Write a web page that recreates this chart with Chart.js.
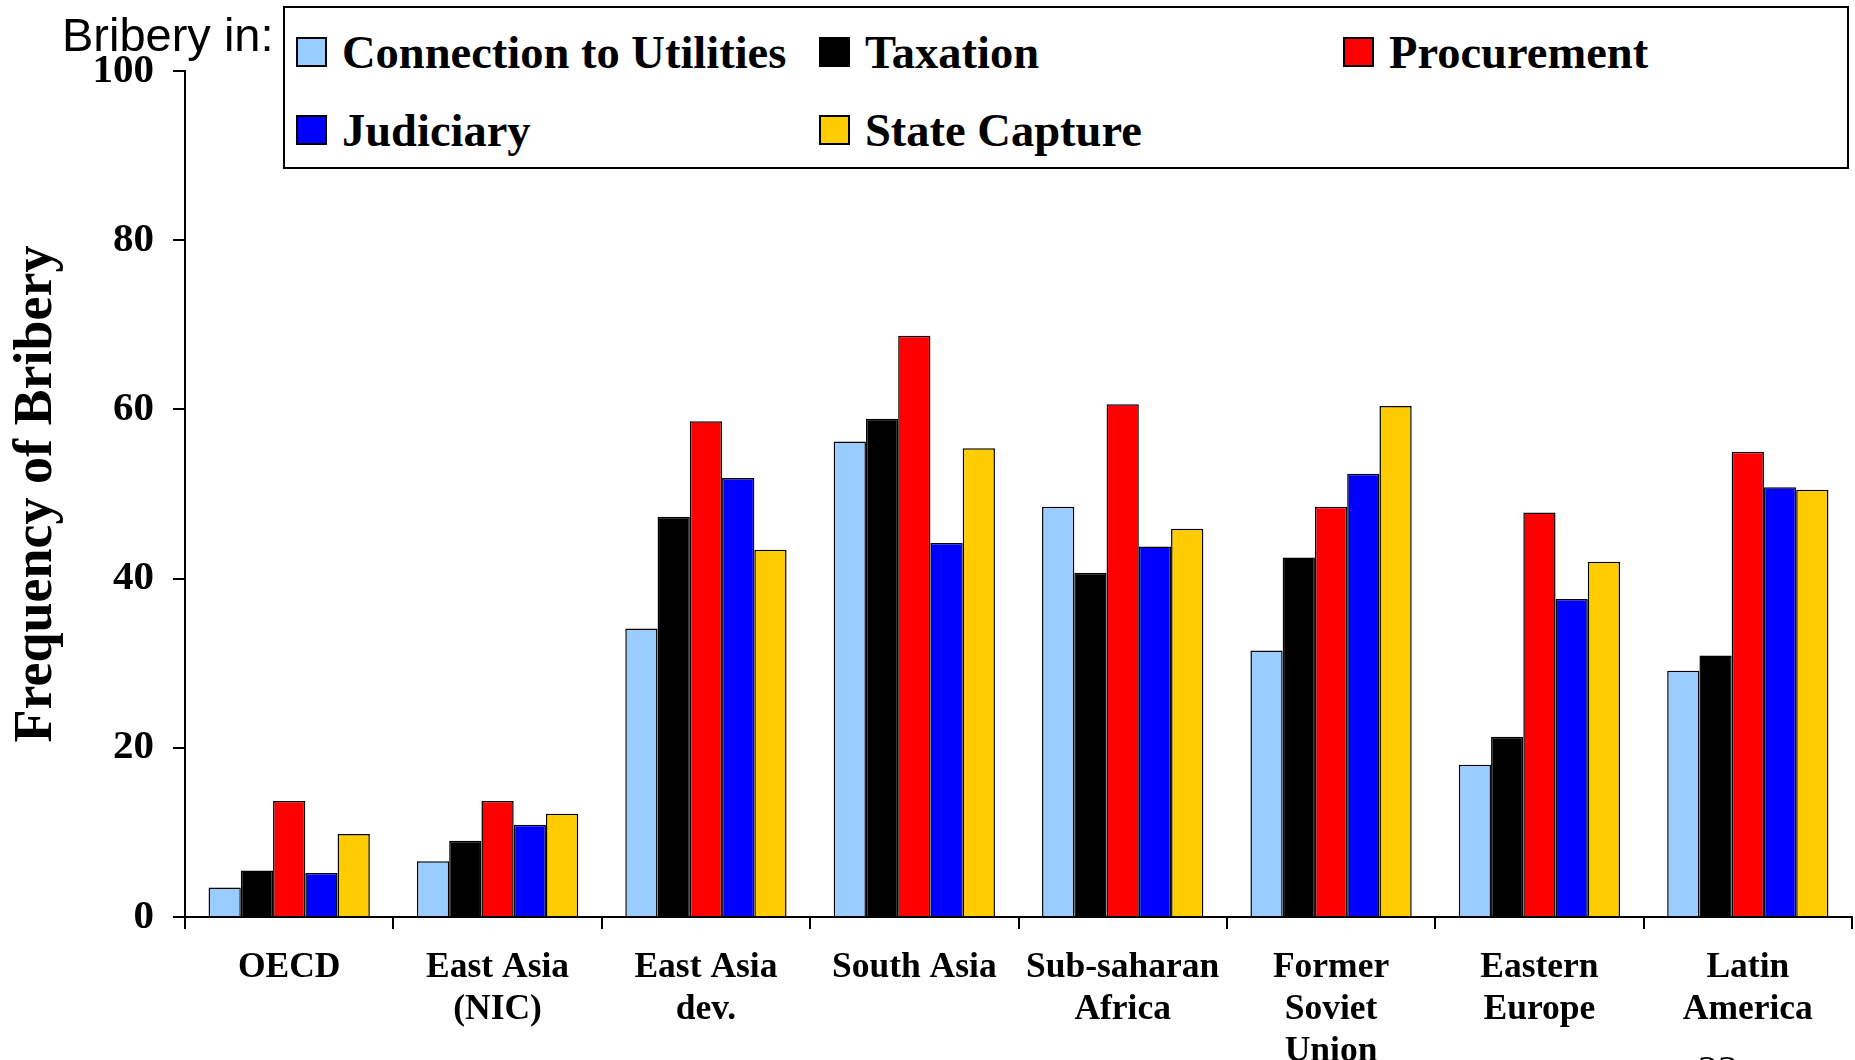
<!DOCTYPE html>
<html>
<head>
<meta charset="utf-8">
<script src="https://cdn.jsdelivr.net/npm/chart.js@4"></script>
<style>
  body { margin: 0; background: #fff; }
  #wrap { position: relative; width: 1855px; height: 1060px; overflow: hidden; }
  #bribery-in { position: absolute; left: 62px; top: 7px; font: 47px "Liberation Sans", Arial, sans-serif; color: #000; }
  #legend { position: absolute; left: 283px; top: 6px; width: 1562px; height: 159px; border: 2px solid #000; background: #fff; }
  .item { position: absolute; display: flex; align-items: center; font: bold 46.5px "Liberation Serif", "Times New Roman", serif; color: #000; white-space: nowrap; }
  .swatch { width: 27px; height: 26px; border: 2px solid #000; margin-right: 15px; }
  #pagenum { position: absolute; left: 1698px; top: 1046px; font: 40px "Liberation Serif", serif; }
</style>
</head>
<body>
<div id="wrap">
  <canvas id="briberyChart" width="1855" height="1060"></canvas>
  <div id="bribery-in">Bribery in:</div>
  <div id="legend"></div>
  <div id="pagenum">23</div>
</div>
<script>
// Regions (x axis)
const regions = [
  ["OECD"], ["East Asia", "(NIC)"], ["East Asia", "dev."], ["South Asia"],
  ["Sub-saharan", "Africa"], ["Former", "Soviet", "Union"], ["Eastern", "Europe"], ["Latin", "America"]
];

// Frequency of bribery by type
const utilities    = [3.5, 6.6, 34.1, 56.2, 48.5, 31.5, 18.0, 29.1];
const taxation     = [5.5, 9.0, 47.3, 58.9, 40.7, 42.5, 21.3, 30.9];
const procurement  = [13.7, 13.7, 58.6, 68.7, 60.6, 48.5, 47.8, 55.0];
const judiciary    = [5.2, 10.9, 51.9, 44.2, 43.8, 52.4, 37.6, 50.8];
const stateCapture = [9.8, 12.2, 43.4, 55.4, 45.9, 60.4, 42.0, 50.5];

const yTicks = [0, 20, 40, 60, 80, 100];

const seriesNames  = ["Connection to Utilities", "Taxation", "Procurement", "Judiciary", "State Capture"];
const seriesColors = ["#99ccff", "#000000", "#ff0000", "#0000ff", "#ffcc00"];
const seriesData   = [utilities, taxation, procurement, judiciary, stateCapture];

const serif = "'Liberation Serif', 'Times New Roman', serif";

const datasets = seriesNames.map((name, i) => ({
    label: name,
    data: seriesData[i],
    backgroundColor: seriesColors[i],
    borderColor: "#000",
    borderWidth: 1.5,
    barPercentage: 1,
    categoryPercentage: 0.774
}));

const ctx = document.getElementById("briberyChart").getContext("2d");
const briberyChart = new Chart(ctx, {
    type: "bar",
    data: { labels: regions, datasets: datasets },
    options: {
        responsive: false,
        animation: false,
        layout: { padding: { top: 71, right: 3, left: 0, bottom: 0 } },
        plugins: { legend: { display: false }, tooltip: { enabled: false } },
        scales: {
            x: {
                afterFit: scale => { scale.height = 143; },
                border: { color: "#000", width: 2 },
                grid: { drawOnChartArea: false, drawTicks: true, tickLength: 12, color: "#000", lineWidth: 2 },
                ticks: {
                    color: "#000",
                    padding: 18,
                    maxRotation: 0,
                    autoSkip: false,
                    font: { family: serif, size: 35.5, weight: "bold", lineHeight: 1.18 }
                }
            },
            y: {
                min: 0,
                max: 100,
                afterFit: scale => { scale.width = 185; },
                afterBuildTicks: scale => { scale.ticks = yTicks.map(v => ({ value: v })); },
                border: { color: "#000", width: 2 },
                grid: { drawOnChartArea: false, drawTicks: true, tickLength: 12, color: "#000", lineWidth: 2 },
                ticks: {
                    color: "#000",
                    padding: 19,
                    font: { family: serif, size: 41, weight: "bold" }
                },
                title: {
                    display: true,
                    text: "Frequency of Bribery",
                    color: "#000",
                    padding: { top: 5, bottom: 0 },
                    font: { family: serif, size: 54, weight: "bold" }
                }
            }
        }
    }
});

// Legend laid out in a 3-column grid like the original
const legendEl = document.getElementById("legend");
const colX = [11, 534, 1058];
const rowY = [44, 122];
seriesNames.forEach((name, i) => {
    const item = document.createElement("div");
    item.className = "item";
    item.style.left = colX[i % 3] + "px";
    item.style.top = (rowY[Math.floor(i / 3)] - 26) + "px";
    item.style.height = "52px";
    const sw = document.createElement("span");
    sw.className = "swatch";
    sw.style.background = seriesColors[i];
    item.appendChild(sw);
    item.appendChild(document.createTextNode(name));
    legendEl.appendChild(item);
});
</script>
</body>
</html>
